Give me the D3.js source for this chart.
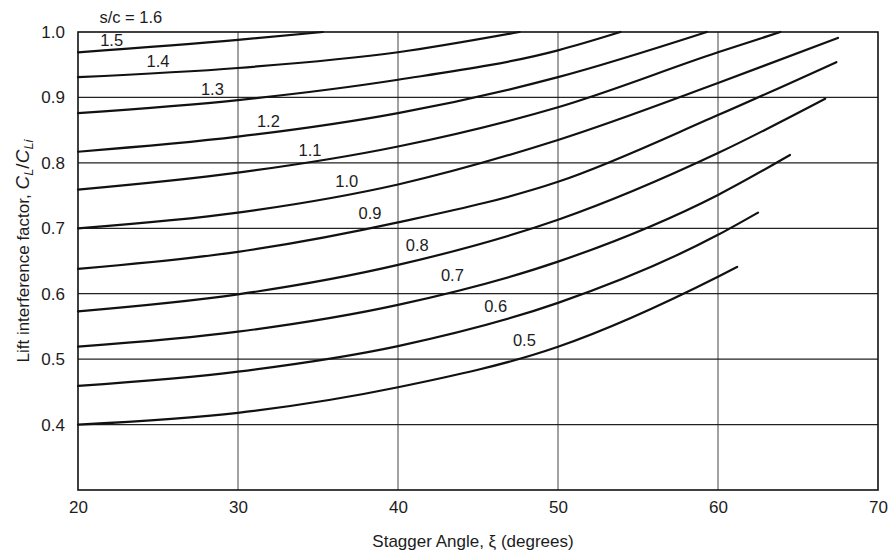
<!DOCTYPE html>
<html>
<head>
<meta charset="utf-8">
<script src="https://cdn.jsdelivr.net/npm/d3@7"></script>
<style>
  html, body { margin: 0; padding: 0; background: #fff; }
  svg { display: block; font-family: "Liberation Sans", Arial, sans-serif; }
</style>
</head>
<body>
<svg id="chart" width="893" height="554"></svg>
<script>
// Solidity ratios s/c for each curve
const solidity = ["1.5", "1.4", "1.3", "1.2", "1.1", "1.0", "0.9", "0.8", "0.7", "0.6", "0.5"];

// Stagger angle (deg) and lift interference factor for each curve
const angles = [
  [20, 30, 35.3],
  [20, 30, 40, 47.6],
  [20, 30, 40, 50, 53.9],
  [20, 30, 40, 50, 59.3],
  [20, 30, 40, 50, 60, 63.9],
  [20, 30, 40, 50, 60, 67.5],
  [20, 30, 40, 50, 60, 67.4],
  [20, 30, 40, 50, 60, 66.7],
  [20, 30, 40, 50, 60, 64.5],
  [20, 30, 40, 50, 60, 62.5],
  [20, 30, 40, 50, 60, 61.2]
];
const factors = [
  [0.969, 0.988, 1.0],
  [0.931, 0.945, 0.969, 1.0],
  [0.876, 0.896, 0.927, 0.972, 1.0],
  [0.817, 0.840, 0.876, 0.931, 1.0],
  [0.759, 0.785, 0.825, 0.885, 0.969, 1.0],
  [0.700, 0.724, 0.767, 0.835, 0.922, 0.991],
  [0.638, 0.664, 0.709, 0.771, 0.873, 0.954],
  [0.573, 0.599, 0.644, 0.713, 0.815, 0.898],
  [0.519, 0.542, 0.583, 0.649, 0.751, 0.812],
  [0.459, 0.481, 0.520, 0.586, 0.690, 0.724],
  [0.400, 0.418, 0.457, 0.519, 0.626, 0.641]
];

// Where each curve's s/c label sits (angle, factor)
const labelAngle  = [22.1, 25.0, 28.4, 31.9, 34.5, 36.8, 38.25, 41.2, 43.4, 46.1, 47.9];
const labelFactor = [0.985, 0.953, 0.911, 0.861, 0.817, 0.769, 0.721, 0.672, 0.626, 0.579, 0.527];

const xTicks = [20, 30, 40, 50, 60, 70];
const yTicks = [0.4, 0.5, 0.6, 0.7, 0.8, 0.9, 1.0];

const svg = d3.select("#chart");
const plotLeft = 78, plotRight = 878, plotTop = 32, plotBottom = 490;
const ink = "#1c1c1c";

const x = d3.scaleLinear().domain([20, 70]).range([plotLeft, plotRight]);
const y = d3.scaleLinear().domain([0.3, 1.0]).range([plotBottom, plotTop]);

// grid
const grid = svg.append("g");
grid.selectAll("line.v").data(xTicks.slice(1, -1)).join("line")
  .attr("x1", d => x(d)).attr("x2", d => x(d))
  .attr("y1", plotTop).attr("y2", plotBottom)
  .attr("stroke", "#444").attr("stroke-width", 1);
grid.selectAll("line.h").data(yTicks.slice(0, -1)).join("line")
  .attr("x1", plotLeft).attr("x2", plotRight)
  .attr("y1", d => y(d)).attr("y2", d => y(d))
  .attr("stroke", "#222").attr("stroke-width", 1.3);

// frame
svg.append("rect")
  .attr("x", plotLeft).attr("y", plotTop)
  .attr("width", plotRight - plotLeft).attr("height", plotBottom - plotTop)
  .attr("fill", "none").attr("stroke", "#111").attr("stroke-width", 1.6);

// axes (labels only, the frame carries the lines)
const xAxis = d3.axisBottom(x).tickValues(xTicks).tickFormat(d3.format("d")).tickSize(0).tickPadding(11);
const gx = svg.append("g").attr("transform", `translate(0,${plotBottom})`).call(xAxis);
gx.select(".domain").remove();
gx.selectAll("text").attr("font-size", 17).attr("fill", ink)
  .attr("font-family", "'Liberation Sans', Arial, sans-serif");

const yAxis = d3.axisLeft(y).tickValues(yTicks).tickFormat(d3.format(".1f")).tickSize(0).tickPadding(13);
const gy = svg.append("g").attr("transform", `translate(${plotLeft},0)`).call(yAxis);
gy.select(".domain").remove();
gy.selectAll("text").attr("font-size", 17).attr("fill", ink)
  .attr("font-family", "'Liberation Sans', Arial, sans-serif");

// curves
const line = d3.line().x(d => x(d[0])).y(d => y(d[1])).curve(d3.curveMonotoneX);
const series = solidity.map((s, i) => ({
  s, pts: angles[i].map((a, j) => [a, factors[i][j]])
}));
svg.append("g").selectAll("path").data(series).join("path")
  .attr("d", d => line(d.pts))
  .attr("fill", "none").attr("stroke", "#111").attr("stroke-width", 2.2)
  .attr("stroke-linecap", "round");

// curve labels
svg.append("g").selectAll("text").data(solidity).join("text")
  .attr("x", (d, i) => x(labelAngle[i]))
  .attr("y", (d, i) => y(labelFactor[i]))
  .attr("text-anchor", "middle").attr("dominant-baseline", "middle")
  .attr("font-size", 16.5).attr("fill", ink)
  .text(d => d);

svg.append("text")
  .attr("x", x(23.3)).attr("y", y(1.02))
  .attr("text-anchor", "middle").attr("dominant-baseline", "middle")
  .attr("font-size", 16.5).attr("fill", ink)
  .text("s/c = 1.6");

// axis titles
svg.append("text")
  .attr("x", 473).attr("y", 547)
  .attr("text-anchor", "middle").attr("font-size", 17).attr("fill", ink)
  .text("Stagger Angle, ξ (degrees)");

const yt = svg.append("text")
  .attr("transform", "translate(29,251) rotate(-90)")
  .attr("text-anchor", "middle").attr("font-size", 17).attr("fill", ink);
yt.append("tspan").text("Lift interference factor, ");
yt.append("tspan").attr("font-style", "italic").attr("font-size", 19).text("C");
yt.append("tspan").attr("font-style", "italic").attr("font-size", 13).attr("dy", 4).text("L");
yt.append("tspan").attr("dy", -4).attr("font-size", 19).text("/");
yt.append("tspan").attr("font-style", "italic").attr("font-size", 19).text("C");
yt.append("tspan").attr("font-style", "italic").attr("font-size", 13).attr("dy", 4).text("Li");
</script>
</body>
</html>
